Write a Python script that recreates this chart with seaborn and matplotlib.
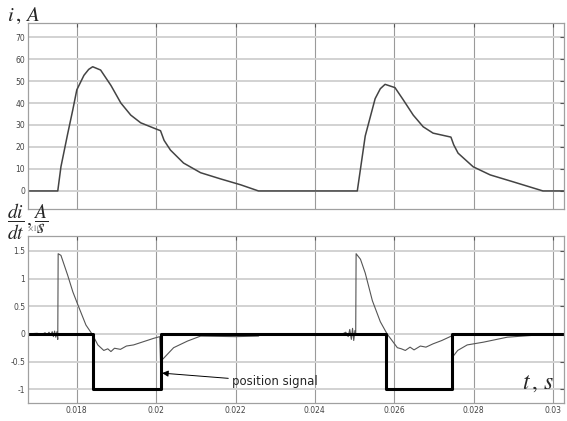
import numpy as np
import pandas as pd
import matplotlib
matplotlib.use("Agg")
import matplotlib.pyplot as plt
import seaborn as sns

# current i, A
current_t = [0.01677, 0.01752, 0.01760, 0.01777, 0.01790, 0.01800, 0.01818, 0.01830,
             0.01840, 0.01860, 0.01886, 0.01911, 0.01936, 0.01961, 0.01994, 0.02011,
             0.02020, 0.02036, 0.02069, 0.02112, 0.02162, 0.02213, 0.02258, 0.02507,
             0.02527, 0.02552, 0.02565, 0.02577, 0.02602, 0.02623, 0.02648, 0.02673,
             0.02698, 0.02743, 0.02750, 0.02761, 0.02799, 0.02842, 0.02899, 0.02975,
             0.03028]
current_a = [0, 0, 11, 26, 37, 46, 52.6, 55.3, 56.5, 55, 48, 40, 34.5, 31, 28.6, 27.4,
             23, 18.6, 12.7, 8.3, 5.5, 2.8, 0, 0, 25, 42, 46.5, 48.5, 47, 41.4, 34.5,
             29.2, 26.3, 24.5, 21, 17.2, 11, 7.3, 4.2, 0, 0]

# di/dt, x10^5 A/s
didt_t = [0.01677, 0.01700, 0.01712, 0.01720, 0.01725, 0.01730, 0.01734, 0.01738,
          0.01741, 0.01744, 0.01747, 0.01750, 0.01752, 0.01753, 0.01760, 0.01777,
          0.01790, 0.01803, 0.01823, 0.01840, 0.01853, 0.01868, 0.01878, 0.01886,
          0.01895, 0.01910, 0.01925, 0.01943, 0.01994, 0.02009, 0.02011, 0.02019,
          0.02044, 0.02079, 0.02112, 0.02200, 0.02258, 0.02262, 0.02470, 0.02478,
          0.02484, 0.02488, 0.02492, 0.02495, 0.02498, 0.02501, 0.02503, 0.02504,
          0.02515, 0.02527, 0.02545, 0.02565, 0.02582, 0.02608, 0.02618, 0.02628,
          0.02640, 0.02650, 0.02666, 0.02680, 0.02698, 0.02720, 0.02741, 0.02746,
          0.02747, 0.02760, 0.02784, 0.02825, 0.02885, 0.02943, 0.02980, 0.03028]
didt_v = [0, 0.01, -0.01, 0.02, -0.02, 0.03, -0.03, 0.04, -0.05, 0.05, -0.06, 0.04,
          -0.10, 1.45, 1.42, 1.06, 0.76, 0.52, 0.16, -0.02, -0.20, -0.30, -0.27, -0.32,
          -0.26, -0.28, -0.22, -0.20, -0.08, -0.05, -0.50, -0.44, -0.25, -0.13, -0.04,
          -0.05, -0.04, 0, 0, 0.03, -0.05, 0.08, -0.10, 0.10, -0.12, 0.06, -0.03, 1.45,
          1.35, 1.10, 0.60, 0.22, 0, -0.25, -0.27, -0.30, -0.24, -0.29, -0.22, -0.24,
          -0.18, -0.12, -0.05, -0.03, -0.42, -0.30, -0.20, -0.15, -0.06, -0.03, 0, 0]

# position signal
pos_t = [0.01677, 0.0184, 0.0184, 0.02011, 0.02011, 0.0258, 0.0258, 0.02746, 0.02746, 0.03028]
pos_v = [0, 0, -1, -1, 0, 0, -1, -1, 0, 0]

x_ticks = [0.018, 0.020, 0.022, 0.024, 0.026, 0.028, 0.030]
x_labels = ["0.018", "0.02", "0.022", "0.024", "0.026", "0.028", "0.03"]
top_ticks = [0, 10, 20, 30, 40, 50, 60, 70]
bot_ticks = [-1, -0.5, 0, 0.5, 1, 1.5]
bot_labels = ["-1", "-0.5", "0", "0.5", "1", "1.5"]

sns.set_style("white")
plt.rcParams["mathtext.fontset"] = "stix"
plt.rcParams["font.family"] = ["DejaVu Sans"]

fig = plt.figure(figsize=(5.67, 4.21), dpi=100)
ax1 = fig.add_axes([0.0494, 0.5036, 0.9453, 0.4418])
ax2 = fig.add_axes([0.0494, 0.0428, 0.9453, 0.3966])

cur = pd.DataFrame({"t": current_t, "i": current_a})
sns.lineplot(data=cur, x="t", y="i", ax=ax1, color="#444444", lw=1.1,
             estimator=None, sort=False)

dd = pd.DataFrame({"t": didt_t, "v": didt_v})
sns.lineplot(data=dd, x="t", y="v", ax=ax2, color="#555555", lw=0.8,
             estimator=None, sort=False)
ps = pd.DataFrame({"t": pos_t, "v": pos_v})
sns.lineplot(data=ps, x="t", y="v", ax=ax2, color="black", lw=2.2,
             estimator=None, sort=False)

for ax in (ax1, ax2):
    ax.set_xlim(0.01677, 0.03028)
    ax.set_xticks(x_ticks)
    ax.set_xlabel("")
    ax.set_ylabel("")
    ax.yaxis.grid(True, color="#d2d2d2", lw=1.4)
    ax.xaxis.grid(True, color="#9a9a9a", lw=0.8)
    ax.set_axisbelow(True)
    ax.tick_params(direction="in", length=3, width=0.8, color="#555555",
                   top=True, right=True, labelsize=5.5, labelcolor="#444444", pad=2)
    for s in ax.spines.values():
        s.set_color("#a0a0a0")
        s.set_linewidth(0.9)

ax1.set_ylim(-8.2, 76.4)
ax1.set_yticks(top_ticks)
ax1.set_xticklabels([])

ax2.set_ylim(-1.25, 1.77)
ax2.set_yticks(bot_ticks)
ax2.set_yticklabels(bot_labels)
ax2.set_xticklabels(x_labels)

fig.text(0.012, 0.950, r"$i\,,\,A$", fontsize=15)
fig.text(0.012, 0.472, r"$\dfrac{di}{dt}\,,\dfrac{A}{s}$", fontsize=14, va="center")
fig.text(0.047, 0.452, r"$\times10^5$", fontsize=6, color="#777777")
ax2.text(0.03003, -0.87, r"$t\,,\,s$", fontsize=17, ha="right", va="center")

ax2.annotate("position signal", xy=(0.02015, -0.71), xytext=(0.0219, -0.87),
             fontsize=8.5, va="center",
             arrowprops=dict(arrowstyle="-|>", color="black", lw=0.7,
                             mutation_scale=9, shrinkA=0, shrinkB=0))

fig.savefig("out.png", dpi=100)
